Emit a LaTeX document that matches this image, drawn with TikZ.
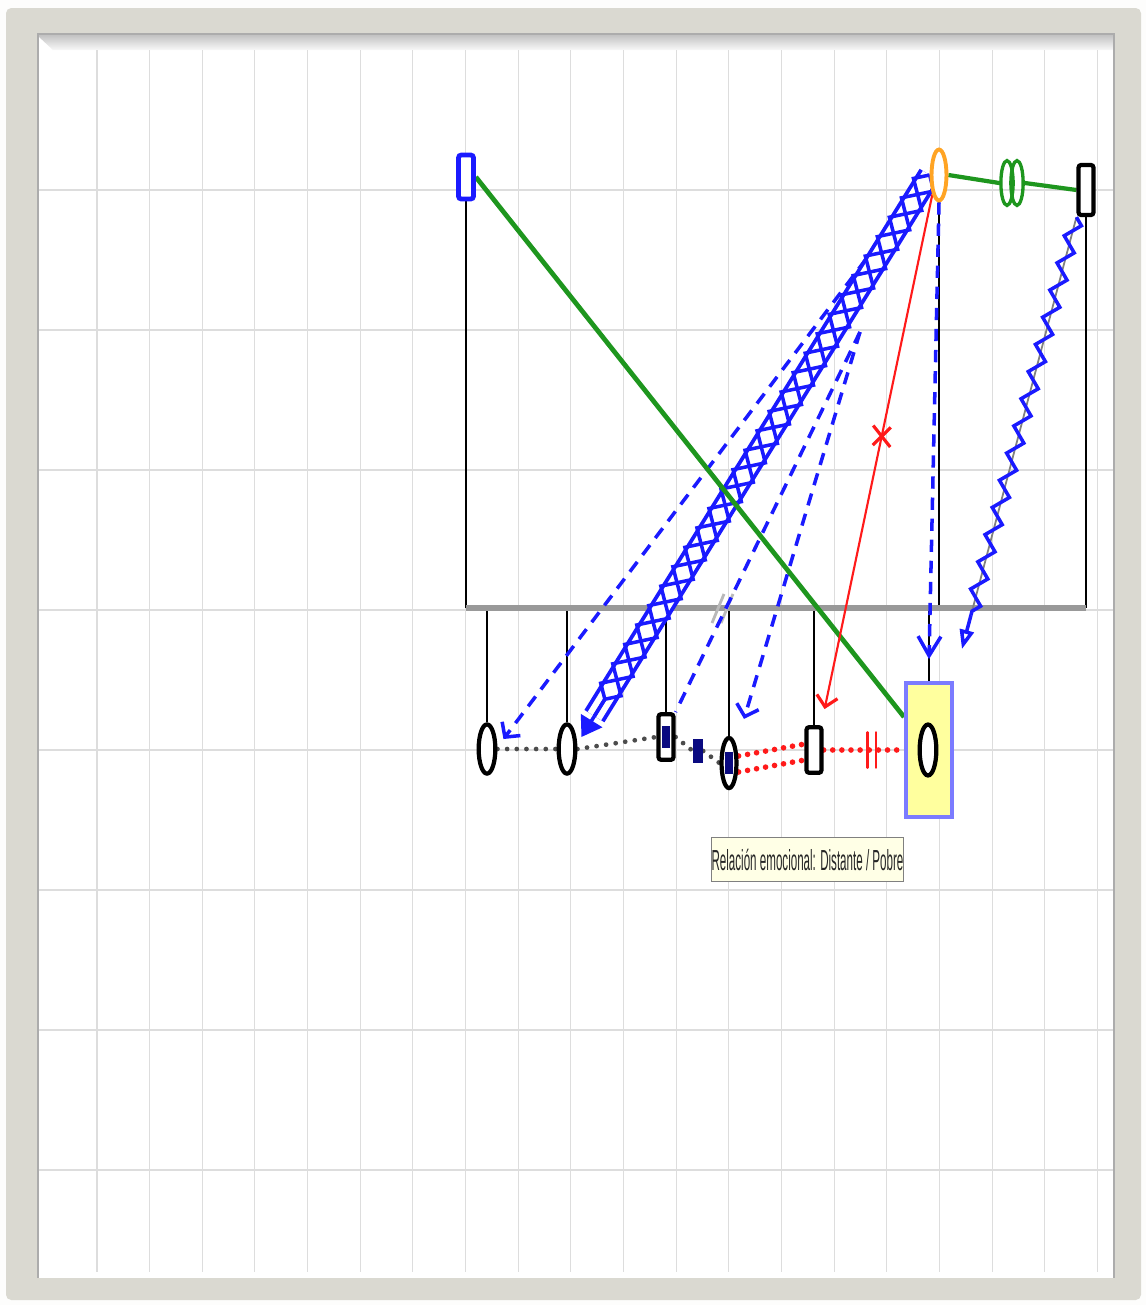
\documentclass[tikz,border=0pt]{standalone}
\usepackage{graphicx}
\usepackage{fontspec}
\newfontfamily\tipfont{Liberation Sans}
\usepackage{tikz}
\usetikzlibrary{arrows.meta,calc,shapes.geometric,decorations.pathmorphing,
  decorations.markings,backgrounds}
\definecolor{frameback}{HTML}{DAD9D1}
\definecolor{gridgray}{HTML}{DDDDDD}
\definecolor{relblue}{HTML}{1A1AFF}
\definecolor{relgreen}{HTML}{1E961E}
\definecolor{relred}{HTML}{FF1A1A}
\definecolor{momorange}{HTML}{FFA424}
\definecolor{idxyellow}{HTML}{FFFF9E}
\definecolor{idxframe}{HTML}{7B7BFF}
\definecolor{navyfill}{HTML}{0A0A80}
\definecolor{tipback}{HTML}{FFFFE6}
\tikzset{
  person/.style={draw,fill=white,line width=2.4pt,inner sep=0pt},
  male/.style={person,rectangle,rounded corners=1.5pt,minimum width=8.5pt,
    minimum height=26pt},
  female/.style={person,ellipse,minimum width=9.5pt,minimum height=28pt},
  lossmark/.style={fill=navyfill,inner sep=0pt,minimum width=4.5pt,
    minimum height=12.5pt},
  ring/.style={ellipse,draw=relgreen,line width=1.9pt,inner sep=0pt,
    minimum width=7pt,minimum height=25.5pt},
  idxbox/.style={rectangle,draw=idxframe,fill=idxyellow,line width=2.4pt,
    minimum width=26pt,minimum height=76pt,inner sep=0pt},
  tipbox/.style={rectangle,draw=gray,fill=tipback,line width=0.6pt,
    minimum width=107pt,minimum height=25.5pt,inner sep=0pt,text=black!85},
  gridln/.style={gridgray,line width=0.6pt},
  descent/.style={black,line width=1.4pt},
  sibship/.style={gray!80,line width=3.4pt},
  bond/.style={relgreen,line width=2.7pt},
  dashrel/.style={relblue,line width=2pt,dash pattern=on 7pt off 5pt},
  openbarb/.style={-{Straight Barb[length=6pt,width=13pt,line width=2pt]}},
  rails/.style={relblue,line width=2.2pt,double=white,double distance=9pt},
  railzig/.style={relblue,line width=2pt,decorate,
    decoration={zigzag,segment length=26pt,amplitude=6.8pt}},
  railzag/.style={railzig,decoration={mirror}},
  hostile/.style={relred,line width=1.2pt,
    -{Straight Barb[length=6pt,width=12pt,line width=1.8pt]},
    postaction={decorate},decoration={markings,mark=at position 0.47 with
      {\draw[-,line width=1.8pt] (-5pt,-6pt) -- (5pt,6pt) (-6pt,4pt) -- (6pt,-4pt);}}},
  wavy/.style={relblue,line width=2pt,decorate,
    decoration={zigzag,segment length=16pt,amplitude=4pt}},
  greydots/.style={gray!60!black,line width=2.7pt,line cap=round,
    dash pattern=on 0pt off 5.5pt},
  reddots/.style={relred,line width=3.2pt,line cap=round,
    dash pattern=on 0pt off 5.2pt},
  cutoff/.style={postaction={decorate},decoration={markings,
    mark=at position 0.6 with {\draw[-,relred,line width=1.6pt,solid]
      (-2.3pt,-10pt) -- (-2.3pt,10pt) (2.3pt,-10pt) -- (2.3pt,10pt);}}},
}
\begin{document}
\begin{tikzpicture}[x=0.02cm,y=-0.02cm]
  \useasboundingbox (0,0) rectangle (1146,1305);
  \node[male,draw=relblue,line width=2.7pt,minimum height=25pt] (father) at (466,177) {};
  \node[female,draw=momorange,line width=2.2pt,minimum width=8.5pt,
    minimum height=29pt] (mother) at (939,175) {};
  \node[male,minimum height=28.5pt] (partner) at (1086,190) {};
  \node[ring] (ringA) at (1007,183) {};
  \node[ring] (ringB) at (1017,183) {};
  \node[female] (c1) at (487,749) {};
  \node[female] (c2) at (567,749) {};
  \node[male] (c3) at (666,737) {};
  \node[lossmark] (c3x) at (c3) {};
  \node[lossmark,minimum width=5.5pt,minimum height=14pt] (mc) at (698,751) {};
  \node[female,minimum width=8.5pt,minimum height=28.5pt] (c4) at (729,763) {};
  \node[lossmark] (c4x) at (c4) {};
  \node[male] (c5) at (814,750) {};
  \node[idxbox] (idx) at (929,750) {};
  \node[female,minimum height=29pt] (idxp) at (928,750) {};
  \node[tipbox] (tip) at (807.5,859.5)
    {\scalebox{0.4}[1]{\tipfont\fontsize{16.5}{18}\selectfont Relación emocional: Distante / Pobre}};

  \begin{pgfonlayer}{background}
    \fill[white!94!frameback] (0,0) rectangle (1146,1305);
    \fill[frameback,rounded corners=3pt] (6,8) rectangle (1141,1300);
    \fill[white] (38,34) rectangle (1114,1278);
    \shade[top color=gray!50,bottom color=white!95!gray]
      (38,34) -- (1114,34) -- (1114,50) -- (53,50) -- (38,36) -- cycle;
    \foreach \gx in {0,...,19}
      \draw[gridln] ({97+52.65*\gx},50) -- ({97+52.65*\gx},1272);
    \foreach \gy in {190,330,...,1170}
      \draw[gridln] (38,\gy) -- (1114,\gy);
    \draw[gray!65,line width=0.8pt] (38,1278) -- (38,34) -- (1114,34) -- (1114,1278);

    \coordinate (sibL) at (466,608);
    \coordinate (fork) at (860,332);
    \coordinate (atip) at ($(c1.east)+(6,-10)$);
    \coordinate (ctip) at ($(c4.north)+(15,-17)$);
    \coordinate (redtip) at ($(c5.north east)+(1,-16)$);
    \coordinate (vtip) at ($(idx.north)+(0,-22)$);
    \coordinate (laddertip) at ($(c2.east)+(4,-12)$);
    \coordinate (ladderpre) at ($(laddertip)!14pt!(mother.west)$);
    \coordinate (zigtip) at ($(idx.north east)+(8,-32)$);
    \coordinate (zigpre) at ($(zigtip)!20pt!(partner.south west)$);

    \foreach \pp in {father,mother,partner}
      \draw[descent] (\pp.south) -- (\pp.south |- sibL);
    \foreach \kid in {c1,c2,c3,c4,c5,idx}
      \draw[descent] (\kid.north) -- (\kid.north |- sibL);
    \draw[sibship] (sibL) -- (sibL -| partner.south);
    \draw[gray!55,line width=1.6pt] (712,623) -- (724,594) (721,623) -- (733,594);

    \draw[dashrel,openbarb] (mother.west) -- (atip);
    \draw[dashrel] (fork) -- (c3.north east);
    \draw[dashrel,openbarb] (fork) -- (ctip);
    \draw[dashrel,-{Straight Barb[length=11pt,width=13pt,line width=2pt]}]
      (mother.south) -- (vtip);

    \draw[rails] (mother.west) -- (ladderpre);
    \draw[railzig] (mother.west) -- (ladderpre);
    \draw[railzag] (mother.west) -- (ladderpre);
    \draw[relblue,line width=2pt,-{Triangle[length=11pt,width=14pt]}]
      (ladderpre) -- (laddertip);

    \draw[bond] (father.east) -- ($(idx.west)+(0,-33)$);
    \draw[bond,line width=2.4pt] (mother.east) -- (ringA.west);
    \draw[bond,line width=2.4pt] (ringB.east) -- (partner.west);

    \draw[hostile] (mother.south west) -- (redtip);

    \draw[gray,line width=1pt] (partner.south west) -- (zigpre);
    \draw[wavy] (partner.south west) -- (zigpre);
    \draw[relblue,line width=2pt,-{Triangle[open,length=11pt,width=8pt]}]
      (zigpre) -- (zigtip);

    \draw[greydots] (c1.east) -- (c2.west);
    \draw[greydots] (c2.east) -- (c3.west);
    \draw[greydots] (c3.east) -- (mc.west);
    \draw[greydots] (mc.east) -- (c4.west);
    \draw[reddots] ($(c4.east)+(0,-7)$) -- ($(c5.west)+(0,-6)$);
    \draw[reddots] ($(c4.east)+(0,9)$) -- ($(c5.west)+(0,10)$);
    \draw[reddots,cutoff] (c5.east) -- (idx.west);
  \end{pgfonlayer}
\end{tikzpicture}
\end{document}
